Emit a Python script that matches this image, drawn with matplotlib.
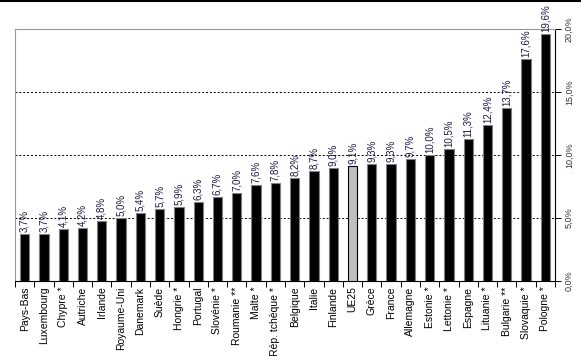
import matplotlib
matplotlib.use("Agg")
import matplotlib.pyplot as plt
from matplotlib.lines import Line2D
import numpy as np

plt.rcParams["font.family"] = ["Liberation Sans", "DejaVu Sans"]

countries = ["Pays-Bas", "Luxembourg", "Chypre *", "Autriche", "Irlande",
             "Royaume-Uni", "Danemark", "Suède", "Hongrie *", "Portugal",
             "Slovénie *", "Roumanie **", "Malte *", "Rép. tchèque *",
             "Belgique", "Italie", "Finlande", "UE25", "Grèce", "France",
             "Allemagne", "Estonie *", "Lettonie *", "Espagne", "Lituanie *",
             "Bulgarie **", "Slovaquie *", "Pologne *"]
rates = [3.7, 3.7, 4.1, 4.2, 4.8, 5.0, 5.4, 5.7, 5.9, 6.3, 6.7, 7.0, 7.6, 7.8,
         8.2, 8.7, 9.0, 9.1, 9.3, 9.3, 9.7, 10.0, 10.5, 11.3, 12.4, 13.7,
         17.6, 19.6]
y_ticks = [0, 5, 10, 15, 20]
highlight = "UE25"

fig = plt.figure(figsize=(5.81, 3.56), dpi=100)
ax = fig.add_axes([15 / 581, 1 - 281 / 356, 540 / 581, 252 / 356])

x = np.arange(len(countries))
colors = ["#c0c0c0" if c == highlight else "black" for c in countries]
edges = ["black" if c == highlight else "#808080" for c in countries]
ax.bar(x, rates, width=0.48, color=colors, edgecolor=edges, linewidth=0.8, zorder=3)

for xi, v in zip(x, rates):
    ax.text(xi, v + 0.15, f"{v:.1f}%".replace(".", ","), rotation=90,
            ha="center", va="bottom", fontsize=7, color="#1a1a40", zorder=4)

for t in y_ticks[1:-1]:
    ax.axhline(t, color="black", linestyle=(0, (2, 2)), linewidth=0.7, zorder=1)

ax.set_xlim(-0.5, len(countries) - 0.5)
ax.set_ylim(0, 20)

ax.set_xticks(x)
ax.set_xticklabels(countries, rotation=90, fontsize=7.5)
ax.tick_params(axis="x", which="major", length=0, pad=4)
ax.set_xticks(np.arange(-0.5, len(countries), 1), minor=True)
ax.tick_params(axis="x", which="minor", length=4, width=0.7, direction="out")

ax.yaxis.tick_right()
ax.set_yticks(y_ticks)
ax.set_yticklabels([f"{t:.1f}%".replace(".", ",") for t in y_ticks],
                   rotation=90, va="center", fontsize=6.5, color="#333333")
ax.tick_params(axis="y", length=4, width=0.7, pad=3)

ax.spines["left"].set_color("#999999")
ax.spines["top"].set_color("#999999")
ax.spines["right"].set_color("black")
ax.spines["bottom"].set_color("black")
for s in ax.spines.values():
    s.set_linewidth(0.8)

fig.add_artist(Line2D([0, 1], [0.997, 0.997], color="black", linewidth=1.5,
                      transform=fig.transFigure))

fig.savefig("out.png", dpi=100)
